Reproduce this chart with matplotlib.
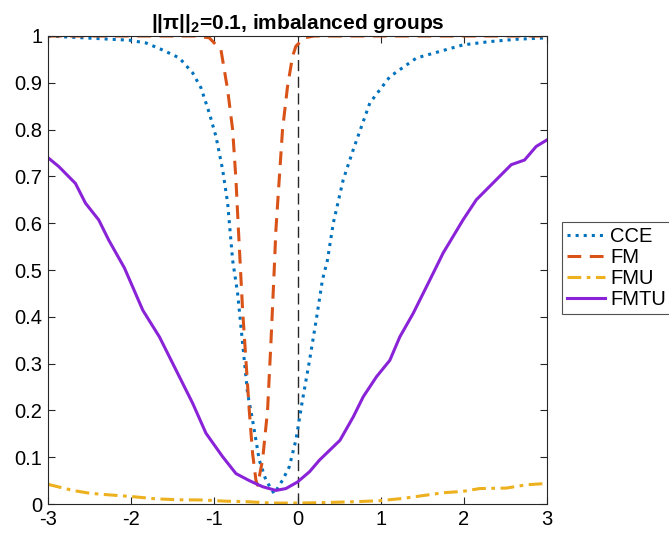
import matplotlib.pyplot as plt
import numpy as np

plt.rcParams['font.family'] = 'Liberation Sans'
plt.rcParams['mathtext.fontset'] = 'custom'
plt.rcParams['mathtext.rm'] = 'Liberation Sans'
plt.rcParams['mathtext.bf'] = 'Liberation Sans:bold'
plt.rcParams['axes.unicode_minus'] = False

# CCE curve
cce_x = [-3.0, -2.02, -1.82, -1.62, -1.42, -1.26, -1.16, -1.06, -0.98, -0.90, -0.84, -0.78,
         -0.72, -0.66, -0.60, -0.54, -0.46, -0.38, -0.28, -0.18, -0.10, -0.02, 0.06, 0.145,
         0.225, 0.30, 0.36, 0.43, 0.55, 0.67, 0.87, 1.11, 1.43, 1.71, 1.99, 2.31, 2.63, 3.0]
cce_y = [1.0, 0.991, 0.985, 0.97, 0.953, 0.921, 0.889, 0.835, 0.785, 0.714, 0.643, 0.521,
         0.45, 0.343, 0.236, 0.179, 0.094, 0.051, 0.022, 0.051, 0.079, 0.136, 0.222, 0.307,
         0.393, 0.479, 0.521, 0.60, 0.693, 0.757, 0.857, 0.913, 0.953, 0.967, 0.981, 0.988, 0.993, 0.996]

# FM curve
fm_x = [-3.0, -1.2, -1.06, -0.92, -0.84, -0.78, -0.74, -0.71, -0.66, -0.62, -0.58, -0.54,
        -0.50, -0.48, -0.42, -0.36, -0.32, -0.28, -0.26, -0.22, -0.18, -0.12, -0.06, -0.02,
        0.08, 0.2, 3.0]
fm_y = [1.0, 1.0, 0.996, 0.97, 0.885, 0.80, 0.693, 0.585, 0.414, 0.307, 0.20, 0.108,
        0.051, 0.04, 0.094, 0.20, 0.343, 0.50, 0.585, 0.693, 0.80, 0.892, 0.956, 0.978,
        0.996, 1.0, 1.0]

# FMU curve
fmu_x = [-3.0, -2.70, -2.5, -2.30, -2.0, -1.70, -1.42, -1.14, -0.86, -0.62, -0.30, 0.0,
         0.31, 0.71, 0.99, 1.27, 1.51, 1.75, 1.99, 2.19, 2.51, 2.75, 3.0]
fmu_y = [0.042, 0.029, 0.023, 0.020, 0.016, 0.011, 0.009, 0.0086, 0.006, 0.005, 0.002, 0.002,
         0.003, 0.005, 0.007, 0.012, 0.018, 0.024, 0.027, 0.033, 0.034, 0.041, 0.044]

# FMTU curve
fmtu_x = [-3.0, -2.87, -2.67, -2.55, -2.39, -2.27, -2.08, -1.86, -1.66, -1.46, -1.26, -1.10,
          -0.90, -0.74, -0.58, -0.42, -0.26, -0.14, 0.0, 0.145, 0.265, 0.51, 0.67, 0.79,
          0.95, 1.11, 1.23, 1.39, 1.55, 1.67, 1.75, 1.99, 2.15, 2.43, 2.57, 2.73, 2.87, 3.0]
fmtu_y = [0.74, 0.721, 0.685, 0.643, 0.607, 0.564, 0.504, 0.414, 0.357, 0.286, 0.215, 0.151,
          0.101, 0.065, 0.05, 0.037, 0.029, 0.033, 0.047, 0.069, 0.094, 0.136, 0.186, 0.229,
          0.272, 0.307, 0.357, 0.407, 0.464, 0.507, 0.536, 0.607, 0.65, 0.70, 0.725, 0.735, 0.764, 0.778]

fig = plt.figure(figsize=(6.69, 5.34), dpi=100)
ax = fig.add_axes([48/669, 30/534, 499/669, 468/534])

ax.plot([0, 0], [0, 1], color='#262626', linestyle=(0, (8, 4)), linewidth=1.0)
ax.plot(cce_x, cce_y, color='#0072BD', linestyle=':', linewidth=2.2, label='CCE')
ax.plot(fm_x, fm_y, color='#D95319', linestyle=(0, (4.5, 2.8)), linewidth=2.2, label='FM')
ax.plot(fmu_x, fmu_y, color='#EDB120', linestyle=(0, (4.5, 1.8, 1.2, 1.8)), linewidth=2.2, label='FMU')
ax.plot(fmtu_x, fmtu_y, color='#8A22D8', linestyle='-', linewidth=2.2, label='FMTU')

ax.set_xlim(-3, 3)
ax.set_ylim(0, 1)
ax.set_xticks(np.arange(-3, 4, 1))
ax.set_yticks(np.arange(0, 1.01, 0.1))
ax.set_yticklabels(['0', '0.1', '0.2', '0.3', '0.4', '0.5', '0.6', '0.7', '0.8', '0.9', '1'])
ax.tick_params(direction='in', top=True, right=True, length=5, width=0.8,
               labelsize=14.5, colors='#262626', labelcolor='black', pad=4)
for s in ax.spines.values():
    s.set_color('#262626')
    s.set_linewidth(0.8)

ax.set_title(r'||π||$_{\mathbf{2}}$=0.1, imbalanced groups', fontsize=15,
             fontweight='bold', pad=5)

leg = fig.legend(loc='upper left', bbox_to_anchor=(562/669, 1 - 222/534), fontsize=14.5,
                 frameon=True, fancybox=False, edgecolor='#262626', handlelength=1.9,
                 handletextpad=0.25, labelspacing=0.1, borderpad=0.25, borderaxespad=0)
leg.get_frame().set_linewidth(0.8)

plt.savefig('out.png', dpi=100)
